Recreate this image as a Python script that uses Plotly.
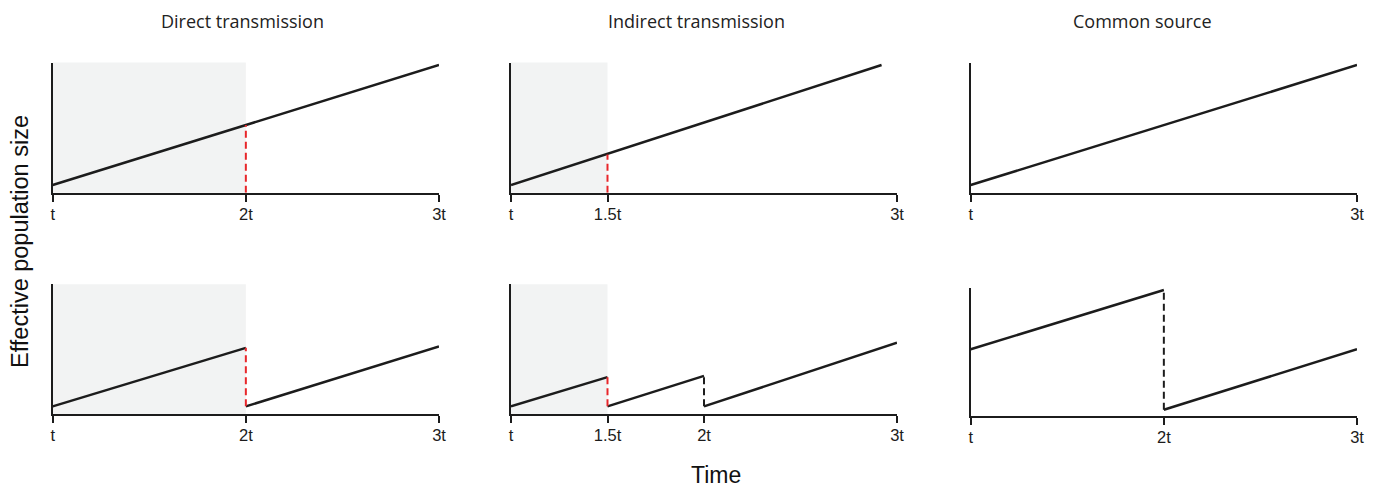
import plotly.graph_objects as go

W, H = 1383, 495

# ---------------- data ----------------
col_titles = ["Direct transmission", "Indirect transmission", "Common source"]
y_title = "Effective population size"
x_title = "Time"

# tick values / labels per panel (row 1: panels 1-3, row 2: panels 4-6)
tick_vals = [[1, 2, 3], [1, 1.5, 3], [1, 3], [1, 2, 3], [1, 1.5, 2, 3], [1, 2, 3]]
tick_text = [["t", "2t", "3t"], ["t", "1.5t", "3t"], ["t", "3t"],
             ["t", "2t", "3t"], ["t", "1.5t", "2t", "3t"], ["t", "2t", "3t"]]

# shaded period end (None = no shading)
shade_end = [2, 1.5, None, 2, 1.5, None]

# solid growth segments: list of (x, y) per panel
p1_solid = [([1, 3], [0.06, 1.0])]
p2_solid = [([1, 2.92], [0.06, 1.0])]
p3_solid = [([1, 3], [0.06, 1.0])]
p4_solid = [([1, 2], [0.06, 0.52]), ([2, 3], [0.06, 0.53])]
p5_solid = [([1, 1.5], [0.06, 0.29]), ([1.5, 2], [0.06, 0.30]), ([2, 3], [0.06, 0.56])]
p6_solid = [([1, 2], [0.53, 1.0]), ([2, 3], [0.05, 0.53])]

# red dashed (transmission) lines
p1_red = [([2, 2], [0.0, 0.53])]
p2_red = [([1.5, 1.5], [0.0, 0.30])]
p3_red = []
p4_red = [([2, 2], [0.06, 0.52])]
p5_red = [([1.5, 1.5], [0.06, 0.29])]
p6_red = []

# black dashed (bottleneck) lines
p1_black, p2_black, p3_black = [], [], []
p4_black = []
p5_black = [([2, 2], [0.06, 0.30])]
p6_black = [([2, 2], [0.05, 1.0])]

solids = [p1_solid, p2_solid, p3_solid, p4_solid, p5_solid, p6_solid]
reds = [p1_red, p2_red, p3_red, p4_red, p5_red, p6_red]
blacks = [p1_black, p2_black, p3_black, p4_black, p5_black, p6_black]

# ---------------- layout geometry (reference pixels) ----------------
col_px = [(52.7, 439.0), (511.0, 897.0), (970.7, 1357.0)]
panel_row_px = [(62.5, 192.7), (62.5, 192.7), (62.5, 192.7),
                (284.2, 414.0), (284.2, 414.0), (287.5, 416.0)]   # top, bottom

INK = "#1c1c1c"
RED = "#e8262a"
SHADE = "#f2f3f3"
YMAX = 1.02


def px_x(p):
    return p / W


def px_y(p):
    return 1 - p / H


fig = go.Figure()
layout = dict(
    width=W, height=H,
    margin=dict(l=0, r=0, t=0, b=0),
    paper_bgcolor="white", plot_bgcolor="rgba(0,0,0,0)",
    showlegend=False,
    shapes=[], annotations=[],
)

for i in range(6):
    c = i % 3
    n = i + 1
    xa = "x" if n == 1 else f"x{n}"
    ya = "y" if n == 1 else f"y{n}"
    xkey = "xaxis" if n == 1 else f"xaxis{n}"
    ykey = "yaxis" if n == 1 else f"yaxis{n}"
    x0, x1 = col_px[c]
    top, bot = panel_row_px[i]
    layout[xkey] = dict(
        domain=[px_x(x0), px_x(x1)], anchor=ya, range=[1, 3],
        showgrid=False, zeroline=False, showline=True, linecolor=INK, linewidth=2,
        ticks="outside", ticklen=7, tickwidth=2, tickcolor=INK,
        tickvals=tick_vals[i], ticktext=tick_text[i],
        tickfont=dict(family="Liberation Sans, Arial", size=16.5, color=INK),
        ticklabelstandoff=-2,
        fixedrange=True, automargin=False,
    )
    layout[ykey] = dict(
        domain=[px_y(bot), px_y(top)], anchor=xa, range=[0, YMAX],
        showgrid=False, zeroline=False, showline=True, linecolor=INK, linewidth=2,
        showticklabels=False, ticks="", fixedrange=True, automargin=False,
    )
    if shade_end[i] is not None:
        layout["shapes"].append(dict(
            type="rect", xref=xa, yref=f"{ya} domain", x0=1, x1=shade_end[i], y0=0, y1=1,
            fillcolor=SHADE, line=dict(width=0), layer="below"))
    for (xs, ys) in solids[i]:
        fig.add_trace(go.Scatter(x=xs, y=ys, mode="lines", xaxis=xa, yaxis=ya,
                                 line=dict(color=INK, width=2.5), hoverinfo="skip"))
    for (xs, ys) in reds[i]:
        fig.add_trace(go.Scatter(x=xs, y=ys, mode="lines", xaxis=xa, yaxis=ya,
                                 line=dict(color=RED, width=2, dash="7px,4px"), hoverinfo="skip"))
    for (xs, ys) in blacks[i]:
        fig.add_trace(go.Scatter(x=xs, y=ys, mode="lines", xaxis=xa, yaxis=ya,
                                 line=dict(color=INK, width=2, dash="7px,4px"), hoverinfo="skip"))

# column titles
title_x = [242, 696, 1142]
for t, xc in zip(col_titles, title_x):
    layout["annotations"].append(dict(
        text=t, x=px_x(xc), y=px_y(21), xref="paper", yref="paper",
        xanchor="center", yanchor="middle", showarrow=False,
        font=dict(family="Open Sans", size=18, color="#222")))

layout["annotations"].append(dict(
    text=y_title, x=px_x(20), y=px_y(242), xref="paper", yref="paper",
    xanchor="center", yanchor="middle", showarrow=False, textangle=-90,
    font=dict(family="Liberation Sans, Arial", size=23.5, color="#111")))
layout["annotations"].append(dict(
    text=x_title, x=px_x(716), y=px_y(475), xref="paper", yref="paper",
    xanchor="center", yanchor="middle", showarrow=False,
    font=dict(family="Liberation Sans, Arial", size=23, color="#111")))

fig.update_layout(**layout)
fig.write_html(
    "out.html",
    config={"displayModeBar": False},
    post_script="document.body.style.margin='0';document.body.style.overflow='hidden';",
)
